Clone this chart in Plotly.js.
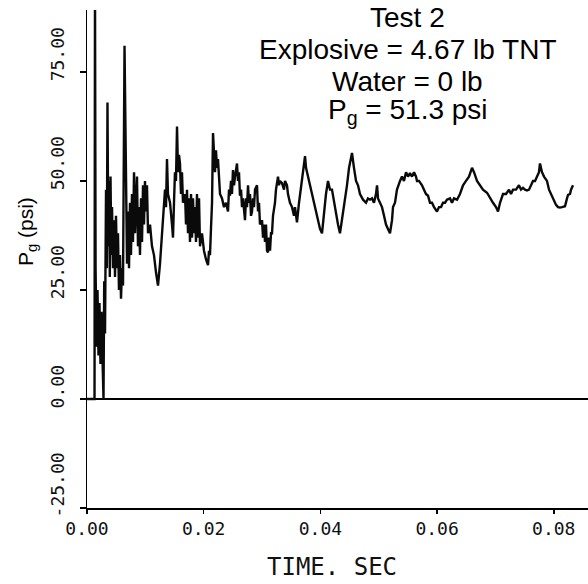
<!DOCTYPE html>
<html>
<head>
<meta charset="utf-8">
<script src="https://cdn.plot.ly/plotly-3.0.1.min.js"></script>
<style>html,body{margin:0;padding:0;background:#fff;}#chart{width:588px;height:584px;}</style>
</head>
<body>
<div id="chart"></div>
<script>
// Time in milliseconds, pressure in psi
const timeMs = [
0,1.29,1.37,1.47,1.63,1.80,1.97,2.14,2.31,2.49,
2.66,2.83,2.95,3.09,3.26,3.39,3.51,3.65,3.77,3.91,
4.03,4.17,4.29,4.46,4.63,4.80,4.97,5.14,5.31,5.48,
5.66,5.83,6.00,6.17,6.43,6.68,6.86,7.03,7.20,7.37,
7.54,7.71,7.88,8.06,8.23,8.40,8.57,8.74,8.91,9.08,
9.26,9.43,9.60,9.77,9.94,10.11,10.28,10.46,10.80,11.14,
11.48,11.83,12.17,12.51,12.86,13.20,13.37,13.54,13.71,13.88,
14.23,14.57,14.74,14.91,15.08,15.25,15.43,15.60,15.77,15.94,
16.11,16.28,16.45,16.80,16.97,17.14,17.31,17.48,17.65,17.83,
18.00,18.17,18.34,18.51,18.68,18.85,19.03,19.20,19.37,19.71,
20.05,20.40,20.74,20.91,21.08,21.25,21.43,21.60,21.77,21.94,
22.11,22.28,22.45,22.62,22.80,23.14,23.48,23.82,24.17,24.34,
24.51,24.68,24.85,25.02,25.20,25.37,25.71,25.88,26.05,26.22,
26.40,26.57,26.74,27.08,27.25,27.42,27.60,27.77,27.94,28.11,
28.28,28.45,28.62,28.80,29.14,29.31,29.48,29.65,30.00,30.17,
30.34,30.51,30.68,30.85,31.02,31.19,31.37,31.54,31.71,31.88,
32.22,32.39,32.74,32.91,33.08,33.42,33.77,33.94,34.28,34.45,
34.79,35.14,35.48,35.65,35.99,36.34,36.68,37.02,37.37,37.54,
37.88,38.22,38.74,39.08,39.42,39.94,40.28,40.62,40.96,41.31,
41.65,41.99,42.34,42.68,43.02,43.36,43.71,44.05,44.56,44.91,
45.25,45.42,45.76,46.11,46.45,46.79,47.31,47.82,48.16,48.51,
48.85,49.19,49.53,49.71,49.88,50.22,50.56,50.91,51.25,51.59,
51.93,52.28,52.45,52.79,53.13,53.65,53.99,54.33,54.68,55.02,
55.36,55.71,56.05,56.39,56.56,56.90,57.42,57.76,58.10,58.45,
58.79,59.13,59.48,59.99,60.33,60.68,61.02,61.36,61.70,62.22,
62.56,62.90,63.42,63.93,64.45,64.96,65.47,65.99,66.33,66.85,
67.36,67.87,68.56,69.07,69.59,70.10,70.45,70.79,71.30,71.82,
72.33,72.67,73.02,73.53,74.04,74.39,74.73,75.07,75.42,75.76,
76.10,76.44,76.79,77.13,77.47,77.64,77.99,78.33,78.84,79.19,
79.53,79.87,80.39,80.73,81.07,81.42,81.93,82.27,82.45,82.79,
82.96,83.30
];
const pressurePsi = [
0,0,96,30,12,25,10,22,8,20,
9,0,27,15,48,30,68,35,50,28,
51,33,44,30,41,28,42,30,38,25,
33,23,30,26,81,40,31,43,30,45,
33,47,36,52,38,45,51,35,44,33,
46,36,49,40,50,43,49,38,40,35,
33,29,26,31,38,46,48,44,55,47,
45,40,37,45,52,50,62.5,52,56,54,
47,52,45,47,40,48,38,46,36,47,
37,46,38,44,36,47,37,46,35,38,
34,32,30.7,34,33,39,45,61,57,52,
57,53,55,50,47,46,44,45,43,48,
46.6,50,47,52.5,49,51,54,50,52,46.6,
48,44,46,41,46,44,49,45,47,42,
43,46,44,48,49,43,45,40,41,37,
40,36,40,34,33.6,37,34,38,38,42,
45,48,51,49,50,49.5,48,50,49,47,
45,44,42,44,40.5,45,49,53,55.7,53,
51,49,46.6,44,42,39,38,43,47,50,
48,48,45,42,40,38,41,45,49,53,
55,56.4,53,50,49,47,45.7,45,46,45.7,
46,45,47,49,46,45,44,42,40,39,
38,41,44,45,48,50,51,50,52,51,
51.8,51,52,51,50,50,49,48,47,46.6,
45,45,44,43,44,44,45,45,45.7,46,
45,46,45.7,47,49,50,51,53,52,50,
49,48,47.3,46,45,44,43,45,47,47,
48,47,48,48,49,48,48.4,48,47.8,48,
49,50,50,51,52,54,52,51,50,48,
47,45.7,44.5,44,43.9,44,44.2,46,46.8,47,
48,49
];
const xTickVals = [0, 0.02, 0.04, 0.06, 0.08];
const xTickText = ['0.00', '0.02', '0.04', '0.06', '0.08'];
const yTickVals = [-25, 0, 25, 50, 75];
const yTickText = ['\u00A0-25.00', '0.00\u00A0', '25.00', '50.00', '75.00'];
const titleLines = ['Test 2', 'Explosive = 4.67 lb TNT', 'Water = 0 lb', 'P<sub>g</sub> = 51.3 psi'];

const timeSec = timeMs.map(v => v / 1000);

const trace = {
  x: timeSec, y: pressurePsi, type: 'scatter', mode: 'lines',
  line: {color: '#0a0a0a', width: 2.4}, hoverinfo: 'skip'
};

const monoFont = {family: 'DejaVu Sans Mono, monospace', size: 18, color: '#111'};
const sansFont = {family: 'Liberation Sans, Arial, sans-serif', size: 28, color: '#000'};
const titleY = [0.985, 0.9197, 0.8564, 0.797];

const annotations = titleLines.map((t, i) => ({
  text: t, xref: 'paper', yref: 'paper', x: 0.64, y: titleY[i],
  xanchor: 'center', yanchor: 'middle', showarrow: false, font: sansFont
}));
annotations.push({
  text: 'P<sub>g</sub> (psi)', xref: 'paper', yref: 'paper', x: -0.1198, y: 0.5562,
  xanchor: 'center', yanchor: 'middle', textangle: -90, showarrow: false,
  font: {family: 'Liberation Sans, Arial, sans-serif', size: 21, color: '#000'}
});
annotations.push({
  text: 'TIME. SEC', xref: 'paper', yref: 'paper', x: 0.489, y: -0.1185,
  xanchor: 'center', yanchor: 'middle', showarrow: false,
  font: {family: 'DejaVu Sans Mono, monospace', size: 24, color: '#111'}
});

const layout = {
  width: 588, height: 584,
  margin: {l: 87, r: 0, t: 10, b: 76, pad: 0},
  paper_bgcolor: '#fff', plot_bgcolor: '#fff',
  showlegend: false,
  xaxis: {
    range: [0, 0.08587], tickmode: 'array', tickvals: xTickVals, ticktext: xTickText,
    ticks: 'outside', ticklen: 4, tickwidth: 1.5, tickcolor: '#000',
    showline: true, linecolor: '#000', linewidth: 1.5,
    showgrid: false, zeroline: false, tickfont: monoFont, fixedrange: true
  },
  yaxis: {
    range: [-25, 89.2], tickmode: 'array', tickvals: yTickVals, ticktext: yTickText,
    tickangle: -90, ticks: 'outside', ticklen: 6, tickwidth: 1.5, tickcolor: '#000',
    showline: true, linecolor: '#000', linewidth: 1.5,
    showgrid: false, zeroline: true, zerolinecolor: '#000', zerolinewidth: 1.5,
    tickfont: monoFont, ticklabelshift: -15, ticklabelstandoff: 8, fixedrange: true
  },
  annotations: annotations
};

Plotly.newPlot('chart', [trace], layout, {displayModeBar: false, staticPlot: true});
</script>
</body>
</html>
